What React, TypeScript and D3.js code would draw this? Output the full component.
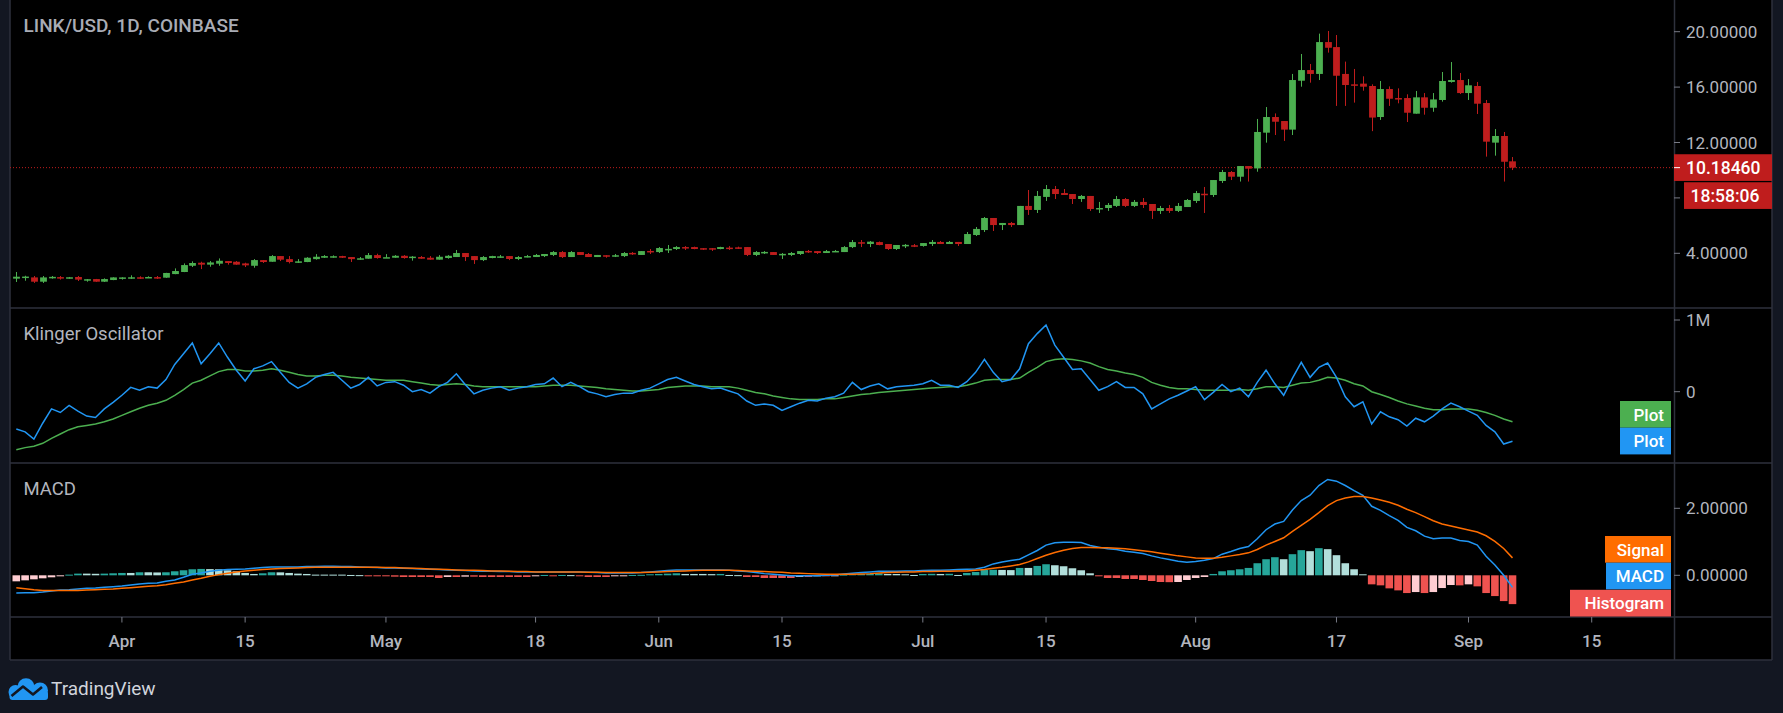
import * as d3 from "d3";
import { useEffect, useRef } from "react";

// LINK/USD daily, first candle 2020-03-20
const startDay = Date.UTC(2020, 2, 20);
const DAY = 864e5;

const opens = [
  2.17, 2.30, 2.26, 1.95, 2.27, 2.28, 2.25, 2.29, 2.11, 2.14,
  1.95, 2.07, 2.25, 2.25, 2.27, 2.27, 2.28, 2.24, 2.50, 2.65,
  3.10, 3.32, 3.18, 3.25, 3.44, 3.39, 3.27, 3.10, 3.51, 3.39,
  3.80, 3.58, 3.40, 3.37, 3.58, 3.68, 3.77, 3.80, 3.73, 3.62,
  3.61, 3.87, 3.70, 3.68, 3.82, 3.74, 3.73, 3.68, 3.54, 3.66,
  3.73, 4.02, 3.80, 3.51, 3.66, 3.76, 3.80, 3.59, 3.71, 3.73,
  3.80, 3.88, 4.09, 3.73, 4.09, 3.95, 3.73, 3.86, 3.84, 3.80,
  4.03, 3.88, 4.17, 4.09, 4.30, 4.31, 4.45, 4.45, 4.37, 4.37,
  4.31, 4.41, 4.43, 4.45, 3.88, 4.08, 4.09, 3.94, 3.88, 3.95,
  4.17, 4.16, 4.02, 4.15, 4.09, 4.45, 4.80, 4.67, 4.81, 4.67,
  4.31, 4.58, 4.58, 4.53, 4.67, 4.82, 4.67, 4.82, 4.67, 5.32,
  5.68, 6.55, 6.04, 6.19, 6.04, 7.42, 7.13, 8.07, 8.64, 8.35,
  8.28, 7.92, 8.14, 7.23, 7.27, 7.42, 7.92, 7.42, 7.71, 7.56,
  7.06, 7.27, 7.06, 7.34, 7.78, 8.30, 8.21, 9.22, 9.87, 9.53,
  10.30, 10.13, 12.71, 13.84, 13.55, 12.93, 16.46, 17.23, 16.95, 19.25,
  18.89, 16.95, 16.20, 16.25, 16.08, 13.84, 15.86, 15.21, 15.21, 14.08,
  15.26, 14.51, 15.07, 16.37, 16.51, 15.57, 16.08, 14.85, 11.99, 12.47,
  10.64,
];
const highs = [
  2.65, 2.38, 2.36, 2.36, 2.36, 2.36, 2.29, 2.36, 2.14, 2.15,
  2.19, 2.27, 2.27, 2.41, 2.34, 2.34, 2.36, 2.59, 2.91, 3.27,
  3.42, 3.39, 3.44, 3.63, 3.44, 3.44, 3.32, 3.58, 3.51, 3.87,
  3.80, 3.80, 3.58, 3.72, 3.94, 3.87, 3.85, 3.82, 3.73, 3.73,
  4.02, 3.97, 3.94, 3.87, 3.87, 3.80, 3.80, 3.80, 3.87, 3.87,
  4.24, 4.02, 3.80, 3.80, 3.82, 3.88, 3.80, 3.80, 3.88, 3.95,
  3.95, 4.16, 4.16, 4.16, 4.09, 4.02, 3.88, 3.86, 3.95, 4.09,
  4.09, 4.16, 4.31, 4.45, 4.60, 4.52, 4.52, 4.48, 4.37, 4.38,
  4.47, 4.52, 4.48, 4.45, 4.16, 4.16, 4.09, 4.02, 4.09, 4.16,
  4.24, 4.16, 4.24, 4.24, 4.52, 4.96, 4.96, 4.89, 4.85, 4.67,
  4.60, 4.67, 4.67, 4.74, 4.96, 4.89, 4.89, 4.82, 5.54, 5.90,
  6.62, 6.55, 6.19, 6.26, 7.42, 8.57, 8.50, 8.93, 8.86, 8.64,
  8.28, 8.21, 8.14, 7.71, 7.63, 8.14, 7.99, 7.85, 7.99, 7.56,
  7.42, 7.49, 7.63, 7.92, 8.50, 8.79, 9.29, 10.02, 9.94, 10.30,
  10.30, 13.70, 14.56, 14.10, 13.55, 16.95, 18.39, 17.67, 19.86, 20.05,
  19.76, 17.84, 17.31, 16.78, 16.20, 16.44, 16.05, 15.91, 15.48, 15.72,
  15.57, 15.57, 17.09, 17.81, 17.02, 16.58, 16.37, 15.07, 12.97, 12.76,
  10.95,
];
const lows = [
  1.93, 2.02, 1.86, 1.86, 2.17, 2.10, 2.17, 2.00, 1.95, 1.94,
  1.93, 2.06, 2.10, 2.15, 2.15, 2.22, 2.15, 2.23, 2.49, 2.64,
  3.01, 2.86, 3.03, 3.10, 3.18, 3.17, 3.01, 2.96, 3.30, 3.39,
  3.44, 3.27, 3.30, 3.36, 3.54, 3.66, 3.68, 3.66, 3.37, 3.54,
  3.61, 3.61, 3.68, 3.68, 3.61, 3.47, 3.61, 3.54, 3.54, 3.61,
  3.73, 3.44, 3.23, 3.44, 3.64, 3.68, 3.51, 3.51, 3.71, 3.73,
  3.73, 3.80, 3.66, 3.73, 3.88, 3.73, 3.73, 3.68, 3.73, 3.73,
  3.88, 3.88, 3.95, 4.02, 4.02, 4.24, 4.24, 4.29, 4.24, 4.17,
  4.29, 4.24, 4.31, 3.80, 3.80, 3.95, 3.88, 3.59, 3.80, 3.88,
  4.02, 3.95, 4.02, 4.09, 4.09, 4.38, 4.45, 4.45, 4.58, 4.24,
  4.24, 4.38, 4.45, 4.48, 4.53, 4.67, 4.67, 4.53, 4.67, 5.25,
  5.54, 5.61, 5.68, 5.90, 6.04, 6.77, 6.91, 7.78, 7.92, 8.21,
  7.56, 7.71, 7.06, 6.91, 7.06, 7.34, 7.34, 7.34, 7.27, 6.48,
  6.84, 6.91, 6.98, 7.34, 7.63, 6.91, 8.07, 9.08, 9.29, 9.18,
  9.18, 9.89, 11.99, 12.54, 12.11, 12.54, 16.03, 16.32, 16.51, 18.49,
  14.64, 14.64, 14.88, 15.74, 12.82, 13.63, 14.64, 14.83, 13.48, 14.08,
  14.01, 14.22, 14.95, 16.32, 15.50, 15.07, 14.06, 10.98, 11.05, 9.18,
  10.01,
];
const closes = [
  2.31, 2.32, 1.95, 2.26, 2.30, 2.25, 2.27, 2.10, 2.13, 1.95,
  2.14, 2.26, 2.26, 2.27, 2.25, 2.29, 2.26, 2.58, 2.72, 3.15,
  3.30, 3.18, 3.34, 3.46, 3.30, 3.18, 3.13, 3.51, 3.37, 3.80,
  3.54, 3.37, 3.42, 3.68, 3.75, 3.80, 3.79, 3.68, 3.58, 3.64,
  3.87, 3.66, 3.72, 3.82, 3.66, 3.76, 3.61, 3.54, 3.75, 3.82,
  4.02, 3.73, 3.51, 3.73, 3.80, 3.78, 3.59, 3.73, 3.80, 3.88,
  3.95, 4.09, 3.73, 4.09, 3.88, 3.73, 3.88, 3.84, 3.86, 4.02,
  4.01, 4.16, 4.15, 4.38, 4.32, 4.45, 4.38, 4.31, 4.35, 4.35,
  4.45, 4.39, 4.41, 3.88, 4.09, 4.10, 3.88, 3.96, 4.02, 4.16,
  4.15, 4.02, 4.16, 4.17, 4.45, 4.81, 4.78, 4.84, 4.60, 4.31,
  4.60, 4.61, 4.56, 4.74, 4.82, 4.67, 4.82, 4.67, 5.39, 5.76,
  6.55, 6.04, 6.19, 6.04, 7.42, 7.13, 8.14, 8.64, 8.28, 8.21,
  7.92, 8.14, 7.20, 7.27, 7.49, 7.92, 7.42, 7.71, 7.49, 7.06,
  7.27, 7.06, 7.42, 7.85, 8.35, 8.26, 9.29, 9.87, 9.53, 10.30,
  10.11, 12.76, 13.84, 13.50, 12.93, 16.51, 17.23, 16.95, 19.25, 18.84,
  16.82, 16.15, 16.13, 16.03, 13.80, 15.86, 15.16, 15.14, 14.15, 15.26,
  14.51, 15.11, 16.44, 16.51, 15.57, 16.13, 14.80, 12.06, 12.47, 10.61,
  10.1846,
];

// Klinger oscillator, in millions
const kvoLine = [
  -0.52, -0.56, -0.66, -0.44, -0.24, -0.29, -0.19, -0.27, -0.34, -0.36,
  -0.24, -0.15, -0.05, 0.06, 0.02, 0.07, 0.05, 0.17, 0.38, 0.53,
  0.68, 0.39, 0.53, 0.68, 0.48, 0.30, 0.15, 0.32, 0.36, 0.42,
  0.27, 0.13, 0.05, 0.11, 0.20, 0.24, 0.27, 0.16, 0.05, 0.10,
  0.20, 0.08, 0.13, 0.14, 0.09, 0.00, 0.03, -0.02, 0.07, 0.13,
  0.25, 0.10, -0.03, 0.02, 0.05, 0.07, 0.02, 0.05, 0.07, 0.10,
  0.11, 0.19, 0.07, 0.13, 0.07, 0.00, -0.03, -0.07, -0.04, -0.02,
  -0.02, 0.02, 0.05, 0.11, 0.17, 0.20, 0.15, 0.10, 0.07, 0.04,
  0.05, 0.01, -0.03, -0.13, -0.19, -0.17, -0.19, -0.26, -0.21, -0.16,
  -0.12, -0.13, -0.09, -0.07, -0.02, 0.13, 0.03, 0.08, 0.11, 0.04,
  0.07, 0.08, 0.09, 0.11, 0.16, 0.09, 0.09, 0.06, 0.14, 0.27,
  0.45, 0.27, 0.14, 0.17, 0.32, 0.67, 0.81, 0.93, 0.65, 0.48,
  0.31, 0.32, 0.17, 0.02, 0.07, 0.14, 0.06, 0.06, -0.03, -0.24,
  -0.17, -0.10, -0.05, 0.01, 0.07, -0.11, -0.01, 0.10, 0.00, 0.05,
  -0.07, 0.13, 0.30, 0.11, -0.05, 0.19, 0.41, 0.20, 0.34, 0.40,
  0.20, -0.07, -0.21, -0.14, -0.45, -0.28, -0.35, -0.39, -0.48, -0.37,
  -0.42, -0.34, -0.24, -0.16, -0.21, -0.27, -0.33, -0.47, -0.56, -0.73,
  -0.69,
];
const kvoSignal = [
  -0.81, -0.78, -0.76, -0.72, -0.65, -0.59, -0.53, -0.49, -0.47, -0.45,
  -0.42, -0.38, -0.33, -0.28, -0.23, -0.19, -0.16, -0.12, -0.05, 0.03,
  0.12, 0.16, 0.22, 0.28, 0.31, 0.31, 0.29, 0.29, 0.30, 0.32,
  0.30, 0.27, 0.24, 0.22, 0.22, 0.23, 0.23, 0.22, 0.20, 0.19,
  0.18, 0.17, 0.16, 0.16, 0.16, 0.14, 0.12, 0.10, 0.09, 0.10,
  0.11, 0.10, 0.08, 0.07, 0.07, 0.07, 0.07, 0.07, 0.07, 0.07,
  0.08, 0.09, 0.09, 0.09, 0.08, 0.07, 0.06, 0.04, 0.03, 0.02,
  0.01, 0.01, 0.02, 0.03, 0.06, 0.07, 0.08, 0.08, 0.08, 0.07,
  0.07, 0.07, 0.05, 0.02, -0.01, -0.03, -0.06, -0.08, -0.10, -0.11,
  -0.11, -0.11, -0.10, -0.10, -0.08, -0.06, -0.04, -0.03, -0.01, 0.00,
  0.01, 0.02, 0.03, 0.04, 0.05, 0.06, 0.07, 0.07, 0.09, 0.12,
  0.16, 0.17, 0.17, 0.17, 0.19, 0.27, 0.34, 0.42, 0.45, 0.46,
  0.45, 0.43, 0.40, 0.35, 0.31, 0.29, 0.26, 0.24, 0.20, 0.13,
  0.09, 0.06, 0.04, 0.04, 0.03, 0.02, 0.02, 0.02, 0.02, 0.03,
  0.02, 0.04, 0.07, 0.07, 0.06, 0.09, 0.12, 0.13, 0.16, 0.20,
  0.19, 0.16, 0.11, 0.08, 0.00, -0.04, -0.08, -0.13, -0.17, -0.20,
  -0.23, -0.25, -0.25, -0.24, -0.24, -0.24, -0.26, -0.29, -0.33, -0.38,
  -0.42,
];

const macdLine = [
  -0.53, -0.52, -0.52, -0.50, -0.47, -0.44, -0.43, -0.41, -0.39, -0.38,
  -0.36, -0.34, -0.32, -0.29, -0.26, -0.24, -0.23, -0.18, -0.14, -0.06,
  0.03, 0.07, 0.12, 0.15, 0.17, 0.18, 0.19, 0.21, 0.23, 0.25,
  0.25, 0.25, 0.25, 0.26, 0.26, 0.27, 0.27, 0.26, 0.26, 0.25,
  0.24, 0.23, 0.22, 0.22, 0.21, 0.20, 0.19, 0.18, 0.17, 0.16,
  0.15, 0.14, 0.13, 0.12, 0.12, 0.11, 0.11, 0.10, 0.10, 0.10,
  0.10, 0.10, 0.10, 0.10, 0.10, 0.09, 0.08, 0.07, 0.07, 0.07,
  0.07, 0.08, 0.10, 0.12, 0.14, 0.16, 0.16, 0.16, 0.16, 0.16,
  0.16, 0.15, 0.13, 0.11, 0.08, 0.05, 0.03, 0.01, -0.01, -0.01,
  -0.01, -0.01, 0.00, 0.01, 0.04, 0.06, 0.08, 0.10, 0.12, 0.12,
  0.12, 0.13, 0.13, 0.14, 0.15, 0.15, 0.16, 0.17, 0.18, 0.19,
  0.24, 0.34, 0.40, 0.44, 0.48, 0.61, 0.74, 0.90, 0.97, 0.99,
  0.99, 0.98, 0.89, 0.84, 0.79, 0.77, 0.72, 0.69, 0.65, 0.58,
  0.52, 0.47, 0.42, 0.39, 0.41, 0.45, 0.50, 0.63, 0.71, 0.80,
  0.86, 1.09, 1.36, 1.53, 1.61, 1.95, 2.23, 2.39, 2.68, 2.86,
  2.81, 2.68, 2.53, 2.39, 2.06, 1.94, 1.78, 1.64, 1.43, 1.33,
  1.17, 1.09, 1.11, 1.11, 1.04, 1.01, 0.90, 0.57, 0.31, 0.00,
  -0.36,
];
const macdSignal = [
  -0.37, -0.40, -0.43, -0.45, -0.45, -0.45, -0.45, -0.45, -0.44, -0.43,
  -0.42, -0.41, -0.39, -0.37, -0.35, -0.33, -0.31, -0.28, -0.24, -0.20,
  -0.14, -0.09, -0.03, 0.02, 0.06, 0.10, 0.13, 0.15, 0.17, 0.19,
  0.20, 0.21, 0.22, 0.23, 0.24, 0.24, 0.24, 0.24, 0.24, 0.24,
  0.24, 0.24, 0.23, 0.23, 0.22, 0.21, 0.20, 0.19, 0.18, 0.17,
  0.16, 0.15, 0.15, 0.14, 0.13, 0.13, 0.12, 0.11, 0.11, 0.10,
  0.10, 0.10, 0.10, 0.10, 0.10, 0.09, 0.09, 0.08, 0.08, 0.08,
  0.08, 0.08, 0.09, 0.10, 0.11, 0.12, 0.13, 0.14, 0.15, 0.15,
  0.15, 0.15, 0.14, 0.13, 0.12, 0.11, 0.10, 0.09, 0.07, 0.06,
  0.05, 0.04, 0.03, 0.03, 0.03, 0.03, 0.04, 0.05, 0.07, 0.08,
  0.09, 0.10, 0.10, 0.11, 0.11, 0.12, 0.12, 0.13, 0.13, 0.15,
  0.17, 0.21, 0.24, 0.28, 0.32, 0.40, 0.50, 0.60, 0.68, 0.75,
  0.80, 0.83, 0.83, 0.82, 0.82, 0.81, 0.79, 0.76, 0.73, 0.70,
  0.66, 0.62, 0.58, 0.55, 0.52, 0.51, 0.51, 0.54, 0.58, 0.62,
  0.67, 0.77, 0.90, 1.01, 1.12, 1.31, 1.49, 1.67, 1.87, 2.08,
  2.23, 2.31, 2.35, 2.35, 2.31, 2.25, 2.18, 2.09, 1.97, 1.87,
  1.75, 1.63, 1.53, 1.47, 1.41, 1.35, 1.29, 1.18, 1.01, 0.80,
  0.52,
];
const macdHist = [
  -0.18, -0.15, -0.12, -0.09, -0.06, -0.02, 0.02, 0.05, 0.05, 0.045,
  0.05, 0.06, 0.07, 0.07, 0.09, 0.09, 0.085, 0.09, 0.12, 0.15,
  0.18, 0.19, 0.185, 0.18, 0.15, 0.12, 0.07, 0.04, 0.06, 0.09,
  0.088, 0.07, 0.05, 0.04, 0.02, 0.02, 0.02, 0.02, 0.01, 0.005,
  -0.01, -0.01, -0.02, -0.04, -0.05, -0.05, -0.05, -0.05, -0.08, -0.05,
  -0.05, -0.04, -0.04, -0.05, -0.05, -0.05, -0.05, -0.05, -0.05, -0.02,
  0.01, -0.02, 0.01, 0.005, -0.02, -0.05, -0.05, -0.05, -0.02, -0.015,
  0.01, 0.015, 0.03, 0.04, 0.05, 0.06, 0.04, 0.04, 0.04, 0.035,
  0.04, 0.01, 0.005, -0.05, -0.05, -0.08, -0.08, -0.08, -0.08, -0.05,
  -0.05, -0.03, -0.03, -0.02, 0.02, 0.03, 0.04, 0.045, 0.06, 0.04,
  0.04, 0.03, 0.01, 0.04, 0.045, 0.04, 0.045, 0.01, 0.07, 0.10,
  0.16, 0.165, 0.16, 0.155, 0.22, 0.22, 0.28, 0.33, 0.30, 0.27,
  0.21, 0.15, 0.06, -0.02, -0.08, -0.08, -0.11, -0.11, -0.14, -0.17,
  -0.20, -0.205, -0.20, -0.14, -0.08, -0.05, 0.04, 0.12, 0.15, 0.18,
  0.22, 0.36, 0.48, 0.54, 0.48, 0.63, 0.75, 0.72, 0.81, 0.78,
  0.60, 0.36, 0.18, 0.03, -0.27, -0.30, -0.39, -0.45, -0.53, -0.50,
  -0.53, -0.50, -0.38, -0.29, -0.30, -0.27, -0.33, -0.53, -0.62, -0.77,
  -0.86,
];

const timeTicks = [
  "2020-04-01", "2020-04-15", "2020-05-01", "2020-05-18", "2020-06-01", "2020-06-15",
  "2020-07-01", "2020-07-15", "2020-08-01", "2020-08-17", "2020-09-01", "2020-09-15",
];
const timeTickLabels = ["Apr", "15", "May", "18", "Jun", "15", "Jul", "15", "Aug", "17", "Sep", "15"];
const priceTicks = [4, 8, 12, 16, 20];
const kvoTicks = [0, 1];
const macdTicks = [0, 2];
const lastPrice = 10.1846;
const countdown = "18:58:06";

const UP = "#4caf50";
const DOWN = "#bf1d1d";
const GRID = "#2e313c";
const TEXT = "#b2b5be";
const FONT = "Roboto, 'Noto Sans', sans-serif";

function drawChart(container: HTMLElement) {
  const W = 1783;
  const H = 713;
  const left = 10;
  const axisX = 1674;
  const right = 1772;
  const bottom = 660;

  const svg = d3.select(container)
    .append("svg")
    .attr("width", W)
    .attr("height", H)
    .style("display", "block")
    .style("font-family", FONT);

  svg.append("rect").attr("width", W).attr("height", H).attr("fill", "#131722");
  svg.append("rect").attr("x", left).attr("y", 0).attr("width", right - left).attr("height", bottom).attr("fill", "#000");

  const dates = closes.map((_, i) => new Date(startDay + i * DAY));
  const x = d3.scaleUtc()
    .domain([new Date(startDay - 0.716 * DAY), new Date(startDay + 188.35 * DAY)])
    .range([left, axisX]);

  const yP = d3.scaleLinear().domain([4, 20]).range([253.3, 31.7]);
  const yK = d3.scaleLinear().domain([-1, 1]).range([463.4, 320]);
  const yM = d3.scaleLinear().domain([-1, 2]).range([608.8, 508.3]);

  // pane frames
  const frame = svg.append("g").attr("stroke", GRID).attr("stroke-width", 1.5);
  [308, 463, 617, bottom].forEach(y => frame.append("line").attr("x1", left).attr("x2", right).attr("y1", y).attr("y2", y));
  frame.append("line").attr("x1", axisX + 0.5).attr("x2", axisX + 0.5).attr("y1", 0).attr("y2", bottom);
  frame.append("line").attr("x1", left).attr("x2", left).attr("y1", 0).attr("y2", bottom);
  frame.append("line").attr("x1", right).attr("x2", right).attr("y1", 0).attr("y2", bottom);

  // main pane
  svg.append("text").attr("x", 23.5).attr("y", 31.7).attr("fill", "#a9acb5")
    .attr("font-size", 19).attr("font-weight", 500).text("LINK/USD, 1D, COINBASE");

  const yl = yP(lastPrice);
  const countdownTop = yl + 14.6;
  const countdownBottom = countdownTop + 26.7;

  const priceAxis = svg.append("g");
  priceTicks.forEach(v => {
    priceAxis.append("line").attr("x1", axisX).attr("x2", axisX + 6).attr("y1", yP(v)).attr("y2", yP(v)).attr("stroke", "#787b86");
    // a tick label under the price / countdown tags is hidden, as on the reference
    const hidden = yP(v) > yl - 22 && yP(v) < countdownBottom + 8;
    if (!hidden) {
      priceAxis.append("text").attr("x", 1686).attr("y", yP(v)).attr("dy", "0.36em").attr("fill", TEXT)
        .attr("font-size", 17).text(d3.format(".5f")(v));
    }
  });

  svg.append("line").attr("x1", left).attr("x2", axisX).attr("y1", yl).attr("y2", yl)
    .attr("stroke", DOWN).attr("stroke-dasharray", "1 2");

  const cw = 6.8;
  const candles = svg.append("g").selectAll("g").data(dates).join("g");
  candles.append("line")
    .attr("x1", d => Math.round(x(d)) + 0.5).attr("x2", d => Math.round(x(d)) + 0.5)
    .attr("y1", (_, i) => yP(highs[i])).attr("y2", (_, i) => yP(lows[i]))
    .attr("stroke", (_, i) => closes[i] >= opens[i] ? UP : DOWN);
  candles.append("rect")
    .attr("x", d => Math.round(x(d)) + 0.5 - cw / 2)
    .attr("width", cw)
    .attr("y", (_, i) => yP(Math.max(opens[i], closes[i])))
    .attr("height", (_, i) => Math.max(1.5, Math.abs(yP(opens[i]) - yP(closes[i]))))
    .attr("fill", (_, i) => closes[i] >= opens[i] ? UP : DOWN);

  svg.append("rect").attr("x", axisX).attr("y", yl - 13.4).attr("width", right - axisX).attr("height", 26.7).attr("fill", DOWN);
  svg.append("line").attr("x1", axisX).attr("x2", axisX + 6).attr("y1", yl).attr("y2", yl).attr("stroke", "#fff");
  svg.append("text").attr("x", 1686).attr("y", yl).attr("dy", "0.36em").attr("fill", "#fff")
    .attr("font-size", 17.5).attr("font-weight", 500).text(d3.format(".5f")(lastPrice));
  svg.append("rect").attr("x", 1684).attr("y", countdownTop).attr("width", right - 1684).attr("height", 26.7).attr("fill", DOWN);
  svg.append("text").attr("x", 1690.5).attr("y", countdownTop + 13.4).attr("dy", "0.36em").attr("fill", "#fff")
    .attr("font-size", 17.5).attr("font-weight", 500).text(countdown);

  // Klinger pane
  svg.append("text").attr("x", 23.5).attr("y", 340.3).attr("fill", TEXT).attr("font-size", 18.5).text("Klinger Oscillator");
  kvoTicks.forEach(v => {
    svg.append("line").attr("x1", axisX).attr("x2", axisX + 6).attr("y1", yK(v)).attr("y2", yK(v)).attr("stroke", "#787b86");
    svg.append("text").attr("x", 1686).attr("y", yK(v)).attr("dy", "0.36em").attr("fill", TEXT)
      .attr("font-size", 17).text(v === 0 ? "0" : v + "M");
  });
  const kLine = d3.line<number>().x((_, i) => x(dates[i])).y(d => yK(d));
  svg.append("path").attr("d", kLine(kvoSignal)).attr("fill", "none").attr("stroke", UP).attr("stroke-width", 1.5);
  svg.append("path").attr("d", kLine(kvoLine)).attr("fill", "none").attr("stroke", "#2196f3").attr("stroke-width", 1.5);

  // MACD pane
  svg.append("text").attr("x", 23.5).attr("y", 495.3).attr("fill", TEXT).attr("font-size", 18.5).text("MACD");
  macdTicks.forEach(v => {
    svg.append("line").attr("x1", axisX).attr("x2", axisX + 6).attr("y1", yM(v)).attr("y2", yM(v)).attr("stroke", "#787b86");
    svg.append("text").attr("x", 1686).attr("y", yM(v)).attr("dy", "0.36em").attr("fill", TEXT)
      .attr("font-size", 17).text(d3.format(".5f")(v));
  });
  const histColor = (v: number, i: number) => {
    const prev = i > 0 ? macdHist[i - 1] : v - 1;
    if (v >= 0) return prev < v ? "#26a69a" : "#b2dfdb";
    return prev < v ? "#ffcdd2" : "#ef5350";
  };
  const bw = 7.6;
  svg.append("g").selectAll("rect").data(macdHist).join("rect")
    .attr("x", (_, i) => x(dates[i]) - bw / 2)
    .attr("width", bw)
    .attr("y", d => Math.min(yM(0), yM(d)))
    .attr("height", d => Math.max(1, Math.abs(yM(d) - yM(0))))
    .attr("fill", (d, i) => histColor(d, i));
  const mLine = d3.line<number>().x((_, i) => x(dates[i])).y(d => yM(d));
  svg.append("path").attr("d", mLine(macdLine)).attr("fill", "none").attr("stroke", "#2196f3").attr("stroke-width", 1.5);
  svg.append("path").attr("d", mLine(macdSignal)).attr("fill", "none").attr("stroke", "#ff6d00").attr("stroke-width", 1.5);

  // legend tags at the right of the indicator panes
  const tags = [
    { label: "Plot", color: UP, x0: 1620, y0: 401 },
    { label: "Plot", color: "#2196f3", x0: 1620, y0: 427.7 },
    { label: "Signal", color: "#ff6d00", x0: 1605, y0: 536 },
    { label: "MACD", color: "#2196f3", x0: 1606, y0: 562.7 },
    { label: "Histogram", color: "#ef5350", x0: 1570, y0: 589.8 },
  ];
  tags.forEach(t => {
    svg.append("rect").attr("x", t.x0).attr("y", t.y0).attr("width", 1671 - t.x0).attr("height", 26.7).attr("fill", t.color);
    svg.append("text").attr("x", 1664).attr("y", t.y0 + 13.4).attr("dy", "0.36em").attr("text-anchor", "end")
      .attr("fill", "#fff").attr("font-size", 17).attr("font-weight", 500).text(t.label);
  });

  // time axis
  const timeAxis = svg.append("g");
  timeTicks.forEach((t, k) => {
    const tx = x(new Date(t + "T00:00:00Z"));
    timeAxis.append("line").attr("x1", tx).attr("x2", tx).attr("y1", 617).attr("y2", 622.5).attr("stroke", "#787b86");
    timeAxis.append("text").attr("x", tx).attr("y", 641).attr("dy", "0.36em").attr("text-anchor", "middle")
      .attr("fill", TEXT).attr("font-size", 17).attr("font-weight", 500).text(timeTickLabels[k]);
  });

  // TradingView logo
  const logo = svg.append("g");
  const cloud = logo.append("g").attr("fill", "#2196f3");
  cloud.append("circle").attr("cx", 15.5).attr("cy", 692).attr("r", 7);
  cloud.append("circle").attr("cx", 26).attr("cy", 686.8).attr("r", 8.5);
  cloud.append("circle").attr("cx", 40).attr("cy", 690.5).attr("r", 8);
  cloud.append("rect").attr("x", 9.5).attr("y", 691).attr("width", 38.5).attr("height", 9).attr("rx", 3);
  logo.append("path").attr("d", "M11.5,696 L23,686.5 L33,694.5 L42,687")
    .attr("fill", "none").attr("stroke", "#131722").attr("stroke-width", 2.6).attr("stroke-linejoin", "round");
  logo.append("text").attr("x", 51).attr("y", 695).attr("fill", "#d1d4dc").attr("font-size", 19).text("TradingView");
}

export default function App() {
  const domRef = useRef<HTMLDivElement>(null);
  useEffect(() => {
    document.body.style.margin = "0";
    document.body.style.background = "#131722";
    if (domRef.current) {
      drawChart(domRef.current);
    }
    return () => {
      if (domRef.current) {
        d3.select(domRef.current).selectAll("svg").remove();
      }
    };
  }, [domRef]);
  return <div ref={domRef}></div>;
}
